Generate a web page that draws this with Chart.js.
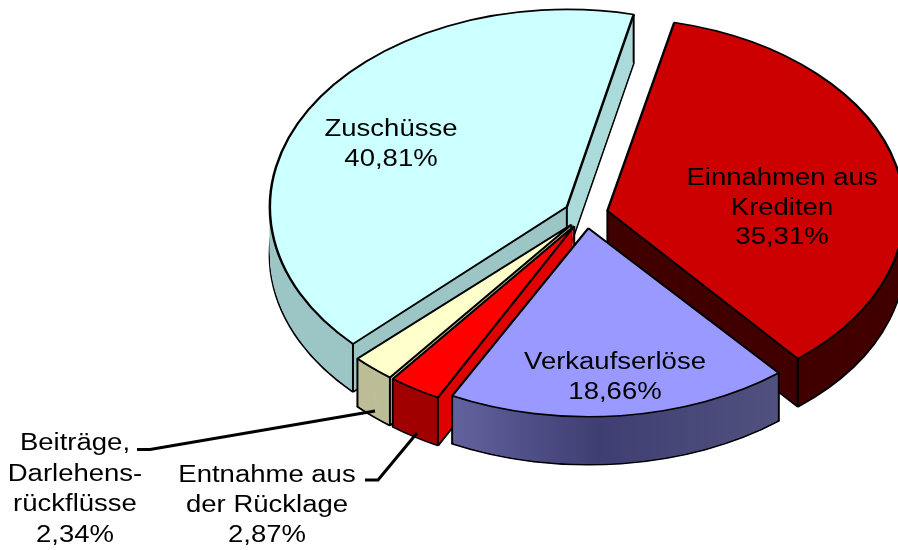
<!DOCTYPE html>
<html lang="de">
<head>
<meta charset="utf-8">
<title>Einnahmen</title>
<script src="https://cdn.jsdelivr.net/npm/chart.js@4"></script>
<style>
    html, body { margin: 0; padding: 0; background: #fff; overflow: hidden; }
    canvas { display: block; }
</style>
</head>
<body>
<canvas id="chart" width="898" height="550"></canvas>
<script>
const categories = ['Einnahmen aus Krediten', 'Verkaufserlöse', 'Entnahme aus der Rücklage', 'Beiträge, Darlehensrückflüsse', 'Zuschüsse'];
const shares = [35.31, 18.66, 2.87, 2.34, 40.81];
const topColors = ['#CC0000', '#9999FF', '#FF0000', '#FFFFCC', '#CCFFFF'];

// Texte der Beschriftungen, zeilenweise
const labelLines = [
    ['Einnahmen aus', 'Krediten', '35,31%'],
    ['Verkaufserlöse', '18,66%'],
    ['Entnahme aus', 'der Rücklage', '2,87%'],
    ['Beiträge,', 'Darlehens-', 'rückflüsse', '2,34%'],
    ['Zuschüsse', '40,81%']
];

// Layout
const TILT = 0.65;
const sliceTilt = [0.65, 0.635, 0.65, 0.65, 0.665];
const DEPTH = 48;
const EXPLODE = 22;
const labelPos = [
    { x: 782, y: 179, step: 29.5 },
    { x: 615, y: 363, step: 29.5 },
    { x: 267, y: 476, step: 30 },
    { x: 75, y: 444, step: 30.5 },
    { x: 391, y: 130, step: 30 }
];
const leaders = [
    [[137, 449.5], [150, 449.5], [375, 411]],
    [[365, 480], [378, 480], [417, 433]]
];

function explodeOf(arc) {
    const mid = (arc.startAngle + arc.endAngle) / 2;
    return { x: Math.cos(mid) * EXPLODE, y: Math.sin(mid) * EXPLODE * TILT };
}

function corner(arc, i, angle) {
    const e = explodeOf(arc);
    return {
        x: arc.x + e.x + Math.cos(angle) * arc.outerRadius,
        y: arc.y + e.y + Math.sin(angle) * arc.outerRadius * sliceTilt[i]
    };
}

function tipOf(arc) {
    const e = explodeOf(arc);
    return { x: arc.x + e.x, y: arc.y + e.y };
}

function hardStop(ctx, x0, x1, xBreak, left, right) {
    const g = ctx.createLinearGradient(x0, 0, x1, 0);
    const t = (xBreak - x0) / (x1 - x0);
    g.addColorStop(0, left);
    g.addColorStop(t, left);
    g.addColorStop(t, right);
    g.addColorStop(1, right);
    return g;
}

// Verläufe liegen im verschobenen Koordinatensystem des Segments
function sideFill(ctx, arc, i) {
    const ex = explodeOf(arc).x;
    const a = corner(arc, i, arc.startAngle).x - ex;
    const b = corner(arc, i, arc.endAngle).x - ex;
    if (i === 0) return '#420000';
    if (i === 1) {
        const g = ctx.createLinearGradient(b, 0, a, 0);
        g.addColorStop(0, '#62629F');
        g.addColorStop(0.45, '#3E3E72');
        g.addColorStop(1, '#51517F');
        return g;
    }
    if (i === 2) return hardStop(ctx, b, a + 20, a, '#A00000', '#E00000');
    if (i === 3) return '#BDBD97';
    return hardStop(ctx, arc.x - 400, arc.x + 200, arc.x, '#9CC6C6', '#ABDADA');
}

function drawSlice(ctx, arc, i, dy, fill, border) {
    const opts = arc.options;
    const e = explodeOf(arc);
    arc.options = Object.assign({}, opts, { backgroundColor: fill, borderWidth: border });
    ctx.save();
    ctx.translate(e.x, e.y + dy);
    ctx.translate(0, arc.y);
    ctx.scale(1, sliceTilt[i]);
    ctx.translate(0, -arc.y);
    arc.draw(ctx);
    ctx.restore();
    arc.options = opts;
}

const pie3d = {
    id: 'pie3d',
    beforeDatasetDraw(chart) {
        const ctx = chart.ctx;
        const arcs = chart.getDatasetMeta(0).data;
        // von hinten nach vorne
        const order = arcs.map((arc, i) => i).sort((p, q) => {
            const mp = (arcs[p].startAngle + arcs[p].endAngle) / 2;
            const mq = (arcs[q].startAngle + arcs[q].endAngle) / 2;
            return Math.sin(mp) - Math.sin(mq);
        });
        order.forEach(i => {
            const arc = arcs[i];
            const fill = sideFill(ctx, arc, i);
            drawSlice(ctx, arc, i, DEPTH, fill, 2.5);
            for (let dy = DEPTH - 1; dy > 0; dy--) drawSlice(ctx, arc, i, dy, fill, 0);
            ctx.strokeStyle = '#000';
            ctx.lineWidth = 2;
            [corner(arc, i, arc.startAngle), corner(arc, i, arc.endAngle), tipOf(arc)].forEach(p => {
                ctx.beginPath();
                ctx.moveTo(p.x, p.y);
                ctx.lineTo(p.x, p.y + DEPTH);
                ctx.stroke();
            });
        });
        order.forEach(i => drawSlice(ctx, arcs[i], i, 0, topColors[i], 2.5));
        return false;
    },
    afterDraw(chart) {
        const ctx = chart.ctx;
        ctx.save();
        ctx.strokeStyle = '#000';
        ctx.lineWidth = 3;
        leaders.forEach(line => {
            ctx.beginPath();
            line.forEach((p, i) => i ? ctx.lineTo(p[0], p[1]) : ctx.moveTo(p[0], p[1]));
            ctx.stroke();
        });
        ctx.fillStyle = '#000';
        ctx.font = '23.5px "Liberation Sans", Arial, sans-serif';
        ctx.textAlign = 'center';
        ctx.textBaseline = 'middle';
        labelLines.forEach((lines, i) => {
            const pos = labelPos[i];
            lines.forEach((text, n) => {
                ctx.save();
                ctx.translate(pos.x, pos.y + n * pos.step);
                ctx.scale(1.17, 1);
                ctx.fillText(text, 0, 0);
                ctx.restore();
            });
        });
        ctx.restore();
    }
};

new Chart(document.getElementById('chart'), {
    type: 'pie',
    data: {
        labels: categories,
        datasets: [{
            data: shares,
            backgroundColor: topColors,
            borderColor: '#000',
            borderWidth: 2.5,
            clip: false
        }]
    },
    options: {
        responsive: false,
        animation: false,
        rotation: 13,
        radius: 297,
        layout: { padding: { left: 274, bottom: 122 } },
        plugins: { legend: { display: false }, tooltip: { enabled: false } }
    },
    plugins: [pie3d]
});
</script>
</body>
</html>
